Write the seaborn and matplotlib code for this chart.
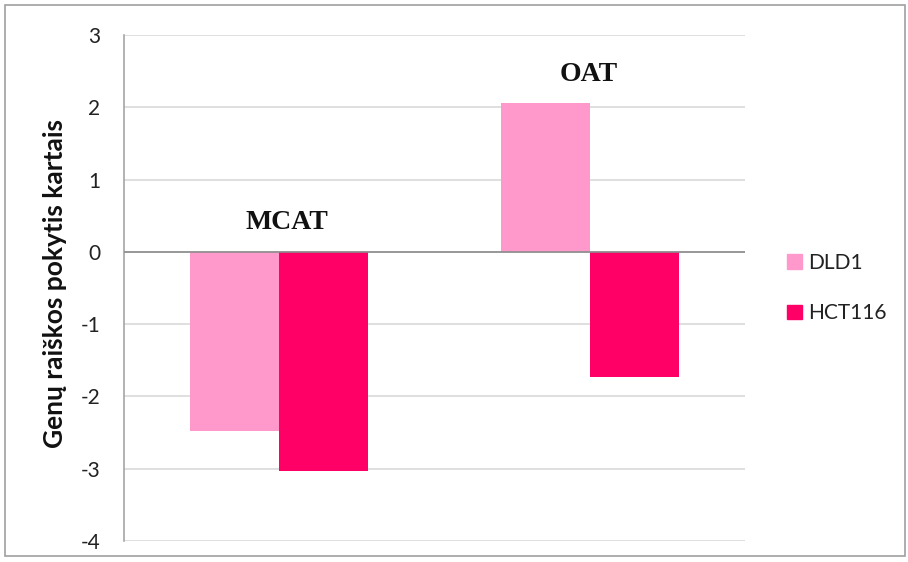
import matplotlib
matplotlib.use("Agg")
import matplotlib.pyplot as plt
import matplotlib.patches as mpatches
import seaborn as sns
import pandas as pd

genes = ["MCAT", "OAT"]
cell_lines = ["DLD1", "HCT116"]
dld1_values = [-2.48, 2.06]
hct116_values = [-3.03, -1.73]
colors = ["#FF99CC", "#FF0066"]
y_ticks = [3, 2, 1, 0, -1, -2, -3, -4]
y_label = "Genų raiškos pokytis kartais"

df = pd.DataFrame({
    "gene": genes * 2,
    "line": [cell_lines[0]] * len(genes) + [cell_lines[1]] * len(genes),
    "value": dld1_values + hct116_values,
})

sns.set_theme(style="white")
plt.rcParams["font.family"] = ["Lato", "DejaVu Sans"]

fig = plt.figure(figsize=(9.08, 5.62), dpi=100)
ax = fig.add_axes([124 / 908, 1 - 541 / 562, (745 - 124) / 908, (541 - 35) / 562])

sns.barplot(data=df, x="gene", y="value", hue="line", order=genes, hue_order=cell_lines,
            palette=colors, width=0.573, saturation=1, ax=ax, legend=True, errorbar=None,
            edgecolor="none", linewidth=0, zorder=3)

ax.set_ylim(-4, 3)
ax.set_yticks(y_ticks)
ax.set_yticklabels([str(t) for t in y_ticks], fontsize=15, color="#222222")
ax.tick_params(axis="y", length=0, pad=17)
ax.set_xticks([])
ax.set_xlabel("")
ax.set_ylabel(y_label, fontsize=19, fontweight="bold", color="#111111")
ax.yaxis.set_label_coords(-0.092, 0.508)
ax.set_xlim(-0.5, 1.5)

for t in y_ticks:
    ax.axhline(t, color="#D9D9D9", linewidth=1.2, zorder=1)
ax.axhline(0, color="#8C8C8C", linewidth=1.2, zorder=4)

for s in ["top", "right", "bottom"]:
    ax.spines[s].set_visible(False)
ax.spines["left"].set_color("#A6A6A6")
ax.spines["left"].set_linewidth(1.2)

vals = dict(zip(genes, zip(dld1_values, hct116_values)))
label_dx = [0.025, -0.005]
for i, g in enumerate(genes):
    top = max(0, max(vals[g]))
    ax.text(i + label_dx[i], top + 0.40, g, ha="center", va="center", fontsize=20,
            fontweight="bold", family="Liberation Serif", color="#111111")

handles = [mpatches.Patch(color=c, label=l) for c, l in zip(colors, cell_lines)]
ax.legend(handles=handles, loc="center left", bbox_to_anchor=(1.038, 0.50), frameon=False,
          fontsize=15, handlelength=0.7, handleheight=0.7, handletextpad=0.3,
          labelspacing=1.45, labelcolor="#222222")

fig.patches.append(mpatches.Rectangle((5 / 908, 1 - 556 / 562), 900 / 908, 551 / 562,
                                      transform=fig.transFigure, fill=False,
                                      edgecolor="#A0A0A0", linewidth=1.2))

fig.savefig("out.png", dpi=100)
